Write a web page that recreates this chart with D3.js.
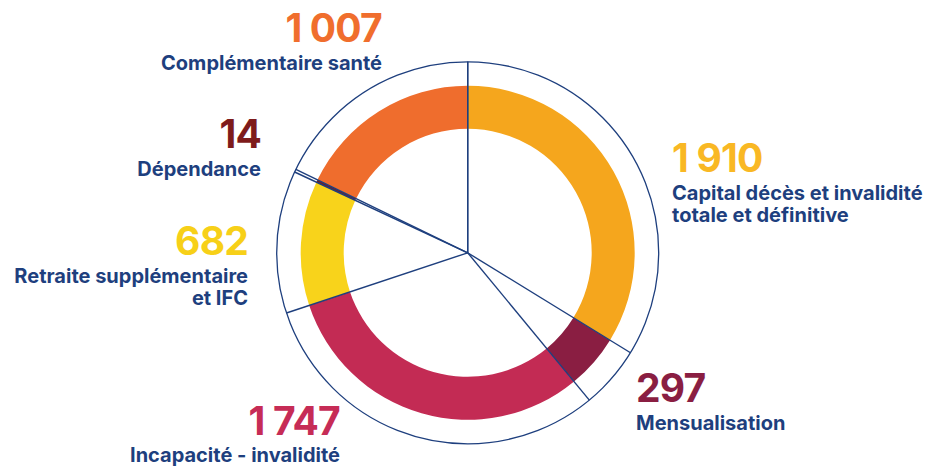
<!DOCTYPE html>
<html><head><meta charset="utf-8">
<script src="https://cdn.jsdelivr.net/npm/d3@7"></script>
<style>
html,body{margin:0;padding:0;background:#fff;}
svg{display:block;}
</style></head>
<body>
<svg id="c" width="931" height="466"></svg>
<script>
const categories = ["Capital décès et invalidité totale et définitive", "Mensualisation", "Incapacité - invalidité", "Retraite supplémentaire et IFC", "Dépendance", "Complémentaire santé"];
const values = [1910, 297, 1747, 682, 14, 1007];
const valueLabels = ["1 910", "297", "1 747", "682", "14", "1 007"];
const sliceColors = ["#F5A61D", "#8A1E42", "#C32B54", "#F8D31B", "#7A1B22", "#EF6D2D"];
const numberColors = ["#F9B824", "#8A1E42", "#C62C56", "#F7D018", "#7E1B1B", "#F06E2D"];
const labelLines = [["Capital décès et invalidité", "totale et définitive"], ["Mensualisation"], ["Incapacité - invalidité"], ["Retraite supplémentaire", "et IFC"], ["Dépendance"], ["Complémentaire santé"]];

const navy = "#1E3F7E";
const svg = d3.select("#c");
const cx = 467.7, cy = 252.8;
const rIn = 124, rOut = 167, rCircle = 191;

const g = svg.append("g").attr("transform", `translate(${cx},${cy})`);
const pie = d3.pie().sort(null).value(d => d).startAngle(0).endAngle(2 * Math.PI);
const arcs = pie(values);
const arc = d3.arc().innerRadius(rIn).outerRadius(rOut);

g.selectAll("path.slice").data(arcs).join("path")
  .attr("class", "slice")
  .attr("d", arc)
  .attr("fill", (d, i) => sliceColors[i]);

g.append("circle").attr("r", rCircle).attr("fill", "none")
  .attr("stroke", navy).attr("stroke-width", 1.3);

const boundaries = arcs.map(a => a.startAngle).concat([arcs[arcs.length - 1].endAngle]);
g.selectAll("line.sep").data(boundaries).join("line")
  .attr("class", "sep")
  .attr("x1", 0).attr("y1", 0)
  .attr("x2", a => rCircle * Math.sin(a))
  .attr("y2", a => -rCircle * Math.cos(a))
  .attr("stroke", navy).attr("stroke-width", 1.4);

// labels
const labelPos = [
  {x: 672, y: 172, anchor: "start"},
  {x: 636, y: 402, anchor: "start"},
  {x: 340, y: 435, anchor: "end"},
  {x: 248, y: 255, anchor: "end"},
  {x: 261, y: 148, anchor: "end"},
  {x: 382, y: 42, anchor: "end"}
];
const font = "Inter, Roboto, sans-serif";
labelPos.forEach((p, i) => {
  svg.append("text").attr("x", p.x).attr("y", p.y)
    .attr("text-anchor", p.anchor)
    .attr("font-family", font).attr("font-weight", 700)
    .attr("font-size", 39).attr("letter-spacing", -0.8)
    .attr("fill", numberColors[i]).text(valueLabels[i]);
  labelLines[i].forEach((t, j) => {
    svg.append("text").attr("x", p.x).attr("y", Math.min(p.y + 28 + j * 21.5, 462))
      .attr("text-anchor", p.anchor)
      .attr("font-family", font).attr("font-weight", 700)
      .attr("font-size", 20)
      .attr("fill", navy).text(t);
  });
});
</script>
</body></html>
